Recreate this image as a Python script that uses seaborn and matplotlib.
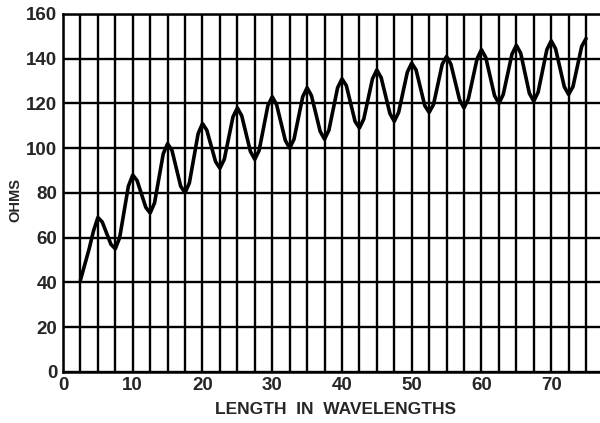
import numpy as np
import pandas as pd
import matplotlib
matplotlib.use("Agg")
import matplotlib.pyplot as plt
import seaborn as sns

ohms = [
    41, 48, 55, 63,
    69, 67, 62, 57,
    55, 60, 71.5, 83,
    88, 85.5, 79.5, 73.5,
    71, 75.5, 86.5, 97.5,
    102, 99, 91, 83,
    80, 84.5, 95.5, 106.5,
    111, 108, 101, 94,
    91, 95, 104.5, 114,
    118, 114.5, 106.5, 98.5,
    95, 99, 109, 119,
    123, 119.5, 111.5, 103.5,
    100, 104, 113.5, 123,
    127, 123.5, 115.5, 107.5,
    104, 108, 117.5, 127,
    131, 128, 120, 112,
    109, 113, 122, 131,
    135, 131.5, 123.5, 115.5,
    112, 116, 125, 134,
    138, 135, 127, 119,
    116, 119.5, 128.5, 137.5,
    141, 137.5, 129.5, 121.5,
    118, 122, 131, 140,
    144, 140.5, 132, 123.5,
    120, 124, 133, 142,
    146, 142.5, 133.5, 124.5,
    121, 125, 134.5, 144,
    148, 144.5, 136, 127.5,
    124, 127.5, 136.5, 145.5,
    149,
]
length = np.linspace(2.5, 75, len(ohms))

x_ticks = [0, 10, 20, 30, 40, 50, 60, 70]
y_ticks = [0, 20, 40, 60, 80, 100, 120, 140, 160]

df = pd.DataFrame({"length": length, "ohms": ohms})

sns.set_style("white")
plt.rcParams["font.family"] = ["Liberation Sans", "DejaVu Sans"]
plt.rcParams["font.weight"] = "bold"

fig = plt.figure(figsize=(6, 4.23), dpi=100)
ax = fig.add_axes([0.105, 0.121, 0.895, 0.846])

sns.lineplot(data=df, x="length", y="ohms", color="black", linewidth=2.6, ax=ax, zorder=5)

ax.set_xlim(0, 77)
ax.set_ylim(0, 160)
ax.set_xticks(x_ticks)
ax.set_xticks(np.arange(0, 77, 2.5), minor=True)
ax.set_yticks(y_ticks)
ax.grid(which="both", axis="x", color="black", linewidth=1.7)
ax.grid(which="major", axis="y", color="black", linewidth=1.7)
ax.tick_params(which="both", length=0, labelsize=13.5, pad=4)

for side in ["left", "bottom", "top"]:
    ax.spines[side].set_color("black")
    ax.spines[side].set_linewidth(1.8)
ax.spines["right"].set_visible(False)

ax.set_xlabel("LENGTH  IN  WAVELENGTHS", fontsize=12.5, fontweight="bold")
ax.xaxis.set_label_coords(0.508, -0.085)
ax.set_ylabel("OHMS", fontsize=10.5, fontweight="bold")
ax.yaxis.set_label_coords(-0.075, 0.48)

plt.savefig("out.png", dpi=100)
